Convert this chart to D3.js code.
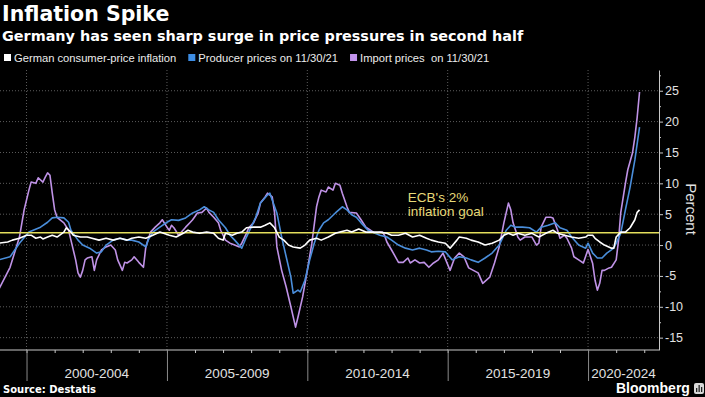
<!DOCTYPE html>
<html>
<head>
<meta charset="utf-8">
<script src="https://cdn.jsdelivr.net/npm/d3@7"></script>
<style>
  body { margin: 0; background: #000; }
  svg { display: block; }
  text { font-family: "Liberation Sans", Arial, sans-serif; white-space: pre; }
  .hd { font-family: "DejaVu Sans", Verdana, sans-serif; font-weight: bold; fill: #fff; }
</style>
</head>
<body>
<div id="chart"></div>
<script>
// German consumer-price inflation, % y/y
const cpi = [
  ['1999-01', 0.3], ['1999-05', 0.5], ['1999-07', 0.8], ['1999-10', 1.1], ['2000-01', 1.6],
  ['2000-03', 1.6], ['2000-05', 1.1], ['2000-07', 1.3], ['2000-08', 1.0], ['2000-10', 1.3],
  ['2000-12', 1.6], ['2001-02', 1.3], ['2001-05', 2.1], ['2001-06', 2.8], ['2001-08', 2.1],
  ['2001-09', 1.6], ['2001-12', 1.3], ['2002-03', 1.3], ['2002-05', 1.1], ['2002-08', 0.8],
  ['2002-11', 1.1], ['2003-02', 0.8], ['2003-05', 1.1], ['2003-08', 0.8], ['2003-10', 1.1],
  ['2004-01', 1.3], ['2004-04', 1.1], ['2004-07', 1.6], ['2004-10', 2.1], ['2005-02', 1.6],
  ['2005-05', 1.3], ['2005-08', 1.9], ['2005-10', 2.4], ['2005-12', 2.1], ['2006-03', 1.9],
  ['2006-06', 2.1], ['2006-09', 1.9], ['2006-11', 1.1], ['2007-01', 0.8], ['2007-02', 1.9],
  ['2007-05', 1.6], ['2007-07', 1.9], ['2007-09', 2.1], ['2007-11', 2.8], ['2008-02', 2.9],
  ['2008-05', 2.9], ['2008-07', 3.2], ['2008-09', 3.6], ['2008-11', 2.8], ['2009-01', 1.3],
  ['2009-03', 0.8], ['2009-05', 0.0], ['2009-07', -0.3], ['2009-10', -0.5], ['2009-12', 0.0],
  ['2010-02', 0.8], ['2010-05', 1.1], ['2010-07', 0.8], ['2010-10', 1.3], ['2011-01', 1.9],
  ['2011-03', 2.1], ['2011-06', 2.4], ['2011-08', 2.1], ['2011-11', 2.6], ['2012-02', 2.1],
  ['2012-05', 2.1], ['2012-08', 2.1], ['2012-11', 1.9], ['2013-01', 1.6], ['2013-04', 1.6],
  ['2013-07', 1.9], ['2013-10', 1.3], ['2014-01', 1.6], ['2014-04', 1.1], ['2014-06', 0.8],
  ['2014-09', 0.5], ['2014-12', 0.3], ['2015-02', -0.5], ['2015-05', 0.8], ['2015-06', 1.3],
  ['2015-09', 1.1], ['2015-11', 0.8], ['2016-02', 0.5], ['2016-05', 0.0], ['2016-08', 0.3],
  ['2016-11', 0.8], ['2017-01', 1.6], ['2017-03', 1.9], ['2017-05', 1.6], ['2017-07', 1.9],
  ['2017-10', 1.6], ['2018-01', 1.9], ['2018-04', 1.3], ['2018-07', 1.9], ['2018-10', 2.4],
  ['2018-12', 1.9], ['2019-03', 1.6], ['2019-06', 1.3], ['2019-09', 1.1], ['2019-12', 1.3],
  ['2020-01', 1.6], ['2020-03', 1.6], ['2020-04', 1.1], ['2020-06', 0.5], ['2020-08', 0.0],
  ['2020-11', -0.5], ['2020-12', -0.5], ['2021-01', 1.3], ['2021-03', 2.1], ['2021-05', 2.1],
  ['2021-07', 2.8], ['2021-09', 4.1], ['2021-10', 5.3], ['2021-11', 5.7]
];

// Producer prices, % y/y
const producer = [
  ['1999-01', -2.4], ['1999-06', -1.9], ['1999-10', 0.3], ['2000-02', 2.1], ['2000-07', 2.9],
  ['2000-10', 3.7], ['2000-12', 4.4], ['2001-02', 4.5], ['2001-05', 4.4], ['2001-07', 3.7],
  ['2001-08', 2.4], ['2001-11', 0.8], ['2002-01', 0.0], ['2002-04', -0.5], ['2002-07', -1.3],
  ['2002-09', -1.1], ['2002-11', 0.0], ['2003-02', 0.8], ['2003-05', 1.1], ['2003-08', 0.8],
  ['2003-10', 0.8], ['2004-01', 0.5], ['2004-04', -0.3], ['2004-05', 0.8], ['2004-07', 2.1],
  ['2004-10', 2.9], ['2005-01', 3.7], ['2005-03', 4.1], ['2005-06', 4.0], ['2005-09', 4.4],
  ['2005-12', 5.2], ['2006-03', 5.7], ['2006-05', 6.2], ['2006-07', 5.7], ['2006-09', 5.3],
  ['2006-11', 4.1], ['2007-02', 2.8], ['2007-04', 1.6], ['2007-06', 0.8], ['2007-09', -0.5],
  ['2007-11', 1.3], ['2008-01', 2.9], ['2008-03', 4.5], ['2008-05', 6.8], ['2008-08', 8.1],
  ['2008-09', 8.4], ['2008-10', 7.3], ['2008-12', 5.2], ['2009-02', 1.3], ['2009-04', -1.9],
  ['2009-06', -5.2], ['2009-07', -7.8], ['2009-09', -7.3], ['2009-10', -7.6], ['2009-12', -5.7],
  ['2010-02', -2.4], ['2010-04', 0.3], ['2010-06', 2.4], ['2010-08', 3.6], ['2010-10', 4.1],
  ['2011-01', 5.2], ['2011-04', 6.2], ['2011-06', 5.7], ['2011-08', 4.9], ['2011-10', 4.5],
  ['2011-12', 3.6], ['2012-03', 2.4], ['2012-06', 1.9], ['2012-08', 1.6], ['2012-11', 1.3],
  ['2013-01', 0.8], ['2013-04', 0.0], ['2013-07', -0.5], ['2013-10', -0.8], ['2014-01', -0.5],
  ['2014-04', -0.8], ['2014-06', -1.1], ['2014-09', -1.0], ['2014-12', -1.1], ['2015-03', -2.4],
  ['2015-06', -1.9], ['2015-09', -2.1], ['2015-11', -2.4], ['2016-02', -2.8], ['2016-05', -2.1],
  ['2016-08', -1.3], ['2016-11', 0.0], ['2017-02', 2.4], ['2017-04', 3.2], ['2017-06', 2.9],
  ['2017-09', 2.9], ['2017-12', 2.8], ['2018-03', 2.1], ['2018-05', 2.9], ['2018-08', 3.2],
  ['2018-11', 3.6], ['2019-01', 2.8], ['2019-04', 2.4], ['2019-06', 1.3], ['2019-09', 0.0],
  ['2019-12', -0.5], ['2020-01', 0.3], ['2020-03', -1.3], ['2020-05', -2.1], ['2020-07', -2.1],
  ['2020-09', -1.3], ['2020-12', -0.5], ['2021-01', 0.3], ['2021-03', 1.9], ['2021-05', 5.7],
  ['2021-07', 9.4], ['2021-09', 13.8], ['2021-11', 19.1]
];

// Import prices, % y/y
const imports = [
  ['1999-01', -7.3], ['1999-06', -3.6], ['1999-10', 1.3], ['1999-12', 5.7], ['2000-02', 8.9],
  ['2000-03', 10.2], ['2000-05', 10.0], ['2000-06', 10.9], ['2000-08', 10.2], ['2000-09', 11.0],
  ['2000-10', 11.7], ['2000-11', 11.3], ['2000-12', 8.4], ['2001-01', 5.7], ['2001-02', 4.5],
  ['2001-05', 3.6], ['2001-07', 2.4], ['2001-08', 0.8], ['2001-10', -2.4], ['2001-11', -4.5],
  ['2001-12', -5.2], ['2002-01', -4.1], ['2002-02', -2.4], ['2002-03', -2.1], ['2002-05', -1.9],
  ['2002-06', -4.1], ['2002-07', -2.4], ['2002-09', -0.8], ['2002-11', -0.3], ['2003-01', 0.0],
  ['2003-03', -0.8], ['2003-04', -2.4], ['2003-06', -4.1], ['2003-07', -2.8], ['2003-08', -2.9],
  ['2003-10', -2.4], ['2003-11', -1.9], ['2004-01', -2.8], ['2004-03', -3.6], ['2004-04', -0.3],
  ['2004-06', 2.1], ['2004-08', 2.9], ['2004-10', 3.6], ['2004-11', 4.1], ['2005-01', 2.9],
  ['2005-02', 2.4], ['2005-03', 3.2], ['2005-04', 2.8], ['2005-06', 1.6], ['2005-09', 2.9],
  ['2005-11', 3.7], ['2005-12', 4.1], ['2006-02', 5.2], ['2006-04', 5.3], ['2006-06', 6.0],
  ['2006-07', 5.3], ['2006-09', 4.5], ['2006-11', 3.6], ['2006-12', 2.4], ['2007-02', 0.8],
  ['2007-04', 0.3], ['2007-06', 0.0], ['2007-08', -0.3], ['2007-09', 0.3], ['2007-11', 1.9],
  ['2007-12', 2.8], ['2008-02', 3.6], ['2008-04', 5.2], ['2008-05', 6.8], ['2008-07', 7.8],
  ['2008-08', 8.4], ['2008-10', 7.8], ['2008-11', 5.2], ['2008-12', -0.3], ['2009-02', -4.1],
  ['2009-04', -6.8], ['2009-06', -10.0], ['2009-08', -13.3], ['2009-09', -11.7], ['2009-11', -8.4],
  ['2010-01', -4.1], ['2010-03', 0.3], ['2010-05', 6.2], ['2010-06', 7.8], ['2010-07', 8.9],
  ['2010-09', 8.6], ['2010-10', 9.4], ['2010-12', 8.9], ['2011-01', 10.0], ['2011-03', 9.7],
  ['2011-04', 8.4], ['2011-06', 6.2], ['2011-07', 5.3], ['2011-10', 5.2], ['2011-12', 4.1],
  ['2012-02', 2.9], ['2012-04', 2.4], ['2012-06', 1.9], ['2012-09', 2.1], ['2012-10', 1.6],
  ['2012-11', 0.5], ['2013-01', -0.8], ['2013-03', -2.1], ['2013-04', -2.8], ['2013-06', -2.8],
  ['2013-08', -2.1], ['2013-09', -2.9], ['2013-11', -2.4], ['2014-01', -2.9], ['2014-03', -2.8],
  ['2014-05', -3.6], ['2014-07', -2.9], ['2014-09', -2.4], ['2014-11', -1.3], ['2015-02', -4.1],
  ['2015-04', -2.1], ['2015-06', -1.3], ['2015-08', -1.9], ['2015-10', -3.7], ['2015-12', -4.1],
  ['2016-02', -4.5], ['2016-04', -6.2], ['2016-07', -5.2], ['2016-09', -2.9], ['2016-11', -0.3],
  ['2017-01', 3.6], ['2017-03', 6.8], ['2017-04', 5.7], ['2017-05', 3.6], ['2017-07', 1.3],
  ['2017-08', 0.8], ['2017-10', 1.3], ['2018-01', 1.3], ['2018-03', 0.0], ['2018-04', 0.3],
  ['2018-05', 2.9], ['2018-07', 4.5], ['2018-09', 4.5], ['2018-10', 4.4], ['2018-12', 2.4],
  ['2019-01', 1.1], ['2019-03', 1.6], ['2019-04', 1.1], ['2019-06', -0.5], ['2019-07', -1.9],
  ['2019-09', -2.4], ['2019-11', -2.9], ['2020-01', -0.7], ['2020-03', -3.0], ['2020-04', -5.7],
  ['2020-05', -7.3], ['2020-06', -6.2], ['2020-07', -4.1], ['2020-08', -4.1], ['2020-10', -3.7],
  ['2020-11', -3.6], ['2021-01', -2.4], ['2021-02', 0.8], ['2021-03', 5.2], ['2021-05', 10.0],
  ['2021-06', 12.2], ['2021-08', 14.9], ['2021-09', 17.5], ['2021-10', 20.7], ['2021-11', 24.8]
];

const ecbGoal = 2;
const periodStarts = [2000, 2005, 2010, 2015, 2020];
const periodLabels = ['2000-2004', '2005-2009', '2010-2014', '2015-2019', '2020-2024'];
const yMajor = [-15, -10, -5, 0, 5, 10, 15, 20, 25];
const yMinor = [-17.5, -12.5, -7.5, -2.5, 2.5, 7.5, 12.5, 17.5, 22.5, 27.5];

const legendItems = [
  { label: 'German consumer-price inflation', color: '#ffffff' },
  { label: 'Producer prices on 11/30/21', color: '#3d8de4' },
  { label: 'Import prices  on 11/30/21', color: '#c293ec' }
];

const W = 705, H = 397;
const L = 0, R = 659, T = 70, B = 350;
const parse = d3.timeParse('%Y-%m');

const svg = d3.select('#chart').append('svg')
  .attr('width', W)
  .attr('height', H);
svg.append('rect').attr('width', W).attr('height', H).attr('fill', '#000');

const x = d3.scaleTime()
  .domain([new Date(1999, 0, 21), new Date(2022, 6, 12)])
  .range([L, R]);
const y = d3.scaleLinear().domain([-17, 28.36]).range([B, T]);

// Grid
const grid = svg.append('g')
  .attr('stroke', '#5c5c5c')
  .attr('stroke-dasharray', '1,2');
grid.selectAll('.hg')
  .data(yMajor)
  .join('line')
  .attr('x1', L).attr('x2', R)
  .attr('y1', d => y(d)).attr('y2', d => y(d));
grid.selectAll('.vg')
  .data(periodStarts)
  .join('line')
  .attr('x1', d => x(new Date(d, 0, 1))).attr('x2', d => x(new Date(d, 0, 1)))
  .attr('y1', T).attr('y2', B);

// Right axis
const axisColor = '#c8c8c8';
const yAx = svg.append('g')
  .attr('transform', `translate(${R},0)`)
  .call(d3.axisRight(y).tickValues(yMajor).tickSize(4).tickSizeOuter(0).tickPadding(2).tickFormat(d => String(d)));
yAx.select('.domain').attr('stroke', axisColor);
yAx.selectAll('.tick line').attr('stroke', axisColor);
yAx.selectAll('.tick text')
  .attr('fill', '#e2e2e2')
  .attr('font-size', '12.5px')
  .attr('font-family', '"Liberation Sans", Arial, sans-serif');

const yMin = svg.append('g')
  .attr('transform', `translate(${R},0)`)
  .call(d3.axisRight(y).tickValues(yMinor.filter(v => v > -17 && v < 28.36)).tickSize(2).tickFormat(''));
yMin.select('.domain').remove();
yMin.selectAll('.tick line').attr('stroke', axisColor);

svg.append('text')
  .attr('transform', `translate(686,${(T + B) / 2 - 1}) rotate(90)`)
  .attr('text-anchor', 'middle')
  .attr('fill', '#e2e2e2')
  .attr('font-size', '15px')
  .text('Percent');

// Bottom axis
svg.append('line')
  .attr('x1', L).attr('x2', R)
  .attr('y1', B).attr('y2', B)
  .attr('stroke', axisColor);

const xMin = svg.append('g')
  .attr('transform', `translate(0,${B})`)
  .call(d3.axisBottom(x).ticks(d3.timeYear.every(1)).tickSize(3).tickSizeOuter(0).tickFormat(''));
xMin.select('.domain').remove();
xMin.selectAll('.tick line').attr('stroke', axisColor);

const xMaj = svg.append('g')
  .attr('transform', `translate(0,${B})`)
  .call(d3.axisBottom(x).tickValues(periodStarts.map(d => new Date(d, 0, 1))).tickSize(31).tickSizeOuter(0).tickFormat(''));
xMaj.select('.domain').remove();
xMaj.selectAll('.tick line').attr('stroke', '#8a8a8a');

svg.append('g').selectAll('text')
  .data(periodLabels)
  .join('text')
  .attr('x', (d, i) => {
    const a = x(new Date(periodStarts[i], 0, 1));
    const b = Math.min(x(new Date(periodStarts[i] + 5, 0, 1)), R);
    return (a + b) / 2;
  })
  .attr('y', 378)
  .attr('text-anchor', 'middle')
  .attr('fill', '#e2e2e2')
  .attr('font-size', '13.5px')
  .text(d => d);

// Lines
svg.append('clipPath').attr('id', 'plot')
  .append('rect').attr('x', L).attr('y', T).attr('width', R - L).attr('height', B - T);

const line = d3.line()
  .x(d => x(parse(d[0])))
  .y(d => y(d[1]));

const plot = svg.append('g').attr('clip-path', 'url(#plot)');
const drawSeries = (data, color) => plot.append('path')
  .datum(data)
  .attr('fill', 'none')
  .attr('stroke', color)
  .attr('stroke-width', 1.6)
  .attr('stroke-linejoin', 'round')
  .attr('d', line);

drawSeries(imports, '#bf92e6');
drawSeries(producer, '#4a8edb');

plot.append('line')
  .attr('x1', L).attr('x2', R)
  .attr('y1', y(ecbGoal)).attr('y2', y(ecbGoal))
  .attr('stroke', '#e4df5c')
  .attr('stroke-width', 1.6);

drawSeries(cpi, '#ffffff');

// ECB annotation
const note = svg.append('text')
  .attr('x', x(parse('2013-08')))
  .attr('y', y(7.0))
  .attr('fill', '#e6d978')
  .attr('font-size', '13.5px');
note.append('tspan').text("ECB's 2%");
note.append('tspan').attr('x', x(parse('2013-08'))).attr('dy', 14).text('inflation goal');

// Titles
svg.append('text').attr('class', 'hd').attr('x', 2).attr('y', 21).attr('font-size', '20.5px').text('Inflation Spike');
svg.append('text').attr('class', 'hd').attr('x', 2).attr('y', 41).attr('font-size', '14.4px')
  .text('Germany has seen sharp surge in price pressures in second half');

// Legend
const lg = svg.append('g').attr('transform', 'translate(4,0)');
let lx = 0;
legendItems.forEach(item => {
  lg.append('rect')
    .attr('x', lx).attr('y', 54)
    .attr('width', 7).attr('height', 7)
    .attr('fill', item.color);
  const t = lg.append('text')
    .attr('x', lx + 10).attr('y', 62)
    .attr('fill', '#ececec')
    .attr('font-size', '11.2px')
    .text(item.label);
  lx += 10 + t.node().getComputedTextLength() + 12;
});

// Footer
svg.append('text').attr('class', 'hd').attr('x', 3).attr('y', 393).attr('font-size', '10px').text('Source: Destatis');
svg.append('text')
  .attr('x', 616).attr('y', 393)
  .attr('fill', '#fff')
  .attr('font-weight', 'bold')
  .attr('font-size', '14px')
  .text('Bloomberg');
const logo = svg.append('g').attr('transform', 'translate(694,383)');
logo.append('rect').attr('width', 10).attr('height', 11).attr('rx', 2).attr('fill', '#d8d8d8');
logo.selectAll('.bar')
  .data([[2, 5, 4], [4.5, 2, 7], [7, 4, 5]])
  .join('rect')
  .attr('x', d => d[0]).attr('y', d => d[1])
  .attr('width', 1.3).attr('height', d => d[2])
  .attr('fill', '#222');
</script>
</body>
</html>
